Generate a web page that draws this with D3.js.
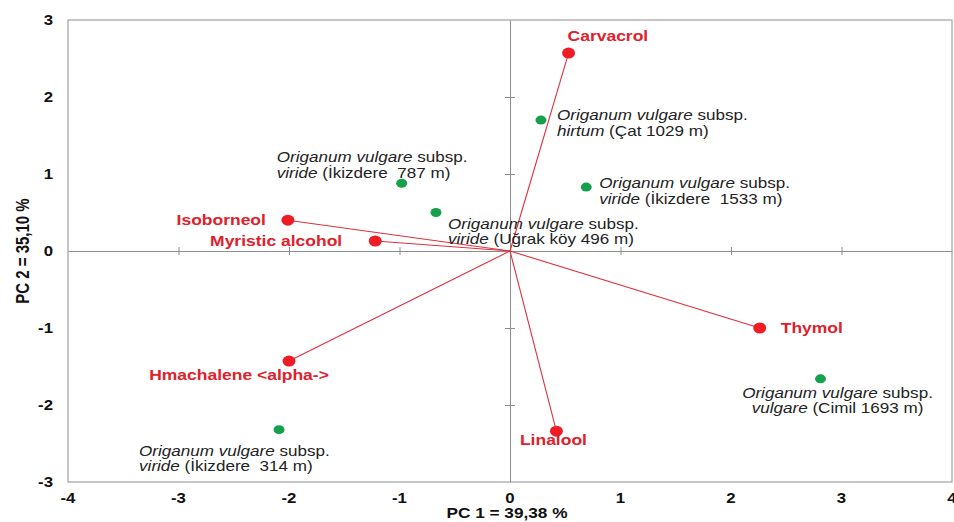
<!DOCTYPE html>
<html>
<head>
  <meta charset="utf-8">
  <title>PCA biplot</title>
  <script src="https://d3js.org/d3.v7.min.js"></script>
  <style>
    html, body { margin: 0; padding: 0; background: #fff; }
    svg { display: block; }
    text { font-family: "Liberation Sans", Arial, sans-serif; white-space: pre; }
  </style>
</head>
<body>
  <svg id="chart" width="954" height="522"></svg>
  <script>
    // variables (loadings), red
    const compounds = ["Carvacrol", "Isoborneol", "Myristic alcohol", "Hmachalene <alpha->", "Thymol", "Linalool"];
    const compoundPC1 = [0.53, -2.01, -1.22, -2.00, 2.26, 0.42];
    const compoundPC2 = [2.57, 0.40, 0.13, -1.43, -1.00, -2.34];

    // samples (scores), green
    const subspecies = ["hirtum", "viride", "viride", "viride", "vulgare", "viride"];
    const localities = ["(Çat 1029 m)", "(İkizdere  787 m)", "(Uğrak köy 496 m)", "(İkizdere  1533 m)", "(Cimil 1693 m)", "(İkizdere  314 m)"];
    const samplePC1 = [0.28, -0.98, -0.67, 0.69, 2.81, -2.09];
    const samplePC2 = [1.70, 0.88, 0.50, 0.83, -1.66, -2.32];

    const xTicks = [-4, -3, -2, -1, 0, 1, 2, 3, 4];
    const yTicks = [-3, -2, -1, 0, 1, 2, 3];
    const xTitle = "PC 1 = 39,38 %";
    const yTitle = "PC 2 = 35,10 %";

    // label placement (pixels relative to the point)
    const compoundLabelPos = [
      { dx: -1, dy: -12, anchor: "start" },
      { dx: -22, dy: 5, anchor: "end" },
      { dx: -33, dy: 5, anchor: "end" },
      { dx: -50, dy: 19, anchor: "middle" },
      { dx: 21, dy: 5, anchor: "start" },
      { dx: -3, dy: 14, anchor: "middle" }
    ];
    const sampleLabelPos = [
      { dx: 16, dy: 0, anchor: "start" },
      { dx: -125, dy: -21, anchor: "start" },
      { dx: 12, dy: 16, anchor: "start" },
      { dx: 13, dy: 1, anchor: "start" },
      { dx: 17, dy: 19, anchor: "middle" },
      { dx: -140, dy: 26, anchor: "start" }
    ];

    const width = 954, height = 522;
    const margin = { top: 20, right: 2, bottom: 40, left: 68 };
    const stretch = 1.2; // the text in the original is horizontally wide

    const svg = d3.select("#chart");
    const x = d3.scaleLinear().domain([-4, 4]).range([margin.left, width - margin.right]);
    const y = d3.scaleLinear().domain([-3, 3]).range([height - margin.bottom, margin.top]);
    const fmt = d => String(d); // plain hyphen minus, as in the original

    function wideText(sel, px, py, sx) {
      return sel.append("text").attr("transform", `translate(${px},${py}) scale(${sx},1)`);
    }

    // frame
    svg.append("rect")
      .attr("x", x(-4)).attr("y", y(3))
      .attr("width", x(4) - x(-4)).attr("height", y(-3) - y(3))
      .attr("fill", "none").attr("stroke", "#a0a0a0").attr("stroke-width", 1.2);

    // zero axes with centred ticks
    const xZero = svg.append("g").attr("transform", `translate(0,${y(0)})`)
      .call(d3.axisBottom(x).tickValues(xTicks.filter(d => d > -4 && d < 4)).tickSize(0).tickFormat(""));
    const yZero = svg.append("g").attr("transform", `translate(${x(0)},0)`)
      .call(d3.axisLeft(y).tickValues(yTicks.filter(d => d > -3 && d < 3)).tickSize(0).tickFormat(""));
    [xZero, yZero].forEach(g => {
      g.select(".domain").attr("stroke", "#8c8c8c").attr("stroke-width", 1);
    });
    xZero.selectAll(".tick line").attr("y1", -4).attr("y2", 4).attr("stroke", "#8c8c8c");
    yZero.selectAll(".tick line").attr("x1", -5).attr("x2", 5).attr("stroke", "#8c8c8c");

    // outer tick labels
    const tickG = svg.append("g")
      .attr("font-size", 14).attr("font-weight", "bold").attr("fill", "#111");
    xTicks.forEach(t => {
      wideText(tickG, x(t), height - margin.bottom + 21, stretch)
        .attr("text-anchor", "middle").text(fmt(t));
    });
    yTicks.forEach(t => {
      wideText(tickG, 53, y(t) + 5, stretch)
        .attr("text-anchor", "end").text(fmt(t));
    });

    // axis titles
    wideText(svg, x(0) - 3, 518, 1.23)
      .attr("text-anchor", "middle").attr("font-size", 14).attr("font-weight", "bold")
      .attr("fill", "#111").text(xTitle);
    svg.append("text")
      .attr("transform", `translate(29,${y(0)}) rotate(-90) scale(1,1.2)`)
      .attr("text-anchor", "middle").attr("font-size", 15).attr("font-weight", "bold")
      .attr("fill", "#111").text(yTitle);

    // vectors
    const vecG = svg.append("g");
    compounds.forEach((c, i) => {
      vecG.append("line")
        .attr("x1", x(0)).attr("y1", y(0))
        .attr("x2", x(compoundPC1[i])).attr("y2", y(compoundPC2[i]))
        .attr("stroke", "#e0303c").attr("stroke-width", 1.1);
    });
    compounds.forEach((c, i) => {
      vecG.append("ellipse")
        .attr("cx", x(compoundPC1[i])).attr("cy", y(compoundPC2[i]))
        .attr("rx", 6.5).attr("ry", 5.5).attr("fill", "#ee1c24");
      const p = compoundLabelPos[i];
      wideText(vecG, x(compoundPC1[i]) + p.dx, y(compoundPC2[i]) + p.dy, 1.25)
        .attr("text-anchor", p.anchor).attr("font-size", 14).attr("font-weight", "bold")
        .attr("fill", "#e0202a").text(c);
    });

    // samples
    const smpG = svg.append("g");
    subspecies.forEach((s, i) => {
      const px = x(samplePC1[i]), py = y(samplePC2[i]);
      smpG.append("ellipse")
        .attr("cx", px).attr("cy", py).attr("rx", 5.5).attr("ry", 4.5).attr("fill", "#16a04c");
      const p = sampleLabelPos[i];
      const t1 = wideText(smpG, px + p.dx, py + p.dy, 1.22)
        .attr("text-anchor", p.anchor).attr("font-size", 14).attr("fill", "#222");
      t1.append("tspan").attr("font-style", "italic").text("Origanum vulgare");
      t1.append("tspan").text(" subsp.");
      const t2 = wideText(smpG, px + p.dx, py + p.dy + 15.5, 1.22)
        .attr("text-anchor", p.anchor).attr("font-size", 14).attr("fill", "#222");
      t2.append("tspan").attr("font-style", "italic").text(s);
      t2.append("tspan").text(" " + localities[i]);
    });
  </script>
</body>
</html>
